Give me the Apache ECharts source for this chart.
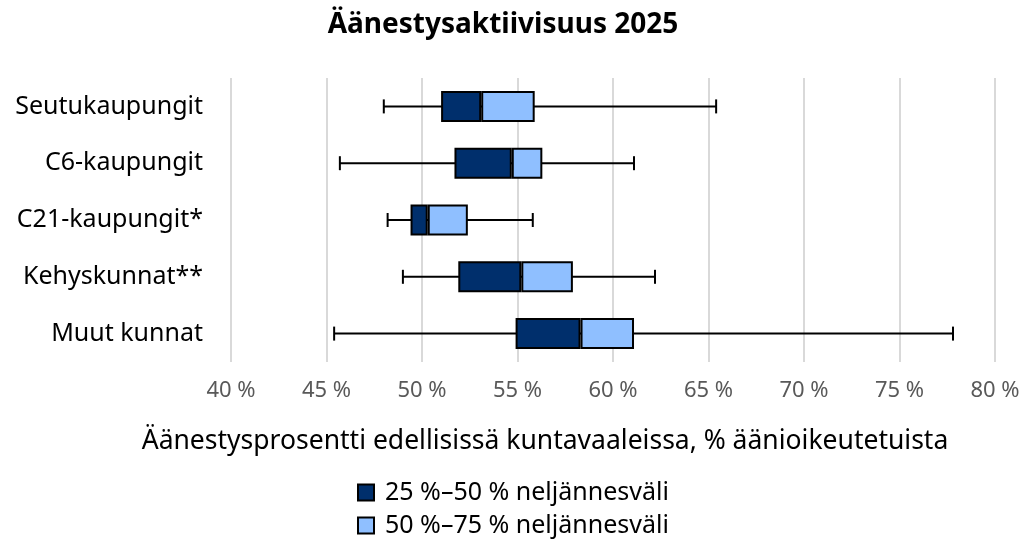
<!DOCTYPE html>
<html>
<head>
<meta charset="utf-8">
<script src="https://cdn.jsdelivr.net/npm/echarts@6/dist/echarts.min.js"></script>
<style>
  html, body { margin: 0; padding: 0; background: #fff; }
  #main { width: 1032px; height: 544px; }
</style>
</head>
<body>
<div id="main"></div>
<script>
// kuntaryhmät ja tunnusluvut (%)
var categories = ['Seutukaupungit', 'C6-kaupungit', 'C21-kaupungit*', 'Kehyskunnat**', 'Muut kunnat'];
var minVals = [48.0, 45.7, 48.2, 49.0, 45.4];
var q1Vals = [51.0, 51.7, 49.4, 51.9, 54.9];
var medianVals = [53.1, 54.7, 50.3, 55.2, 58.3];
var q3Vals = [55.9, 56.3, 52.4, 57.9, 61.1];
var maxVals = [65.4, 61.1, 55.8, 62.2, 77.8];
var xTicks = [40, 45, 50, 55, 60, 65, 70, 75, 80];
var legendNames = ['25 %–50 % neljännesväli', '50 %–75 % neljännesväli'];

var fontName = 'Noto Sans';

var chartDom = document.getElementById('main');
var myChart = echarts.init(chartDom);

var lowerPart = [];
var upperPart = [];
var whiskers = [];
for (var i = 0; i < categories.length; i++) {
  lowerPart.push(+(medianVals[i] - q1Vals[i]).toFixed(2));
  upperPart.push(+(q3Vals[i] - medianVals[i]).toFixed(2));
  whiskers.push([i, minVals[i], maxVals[i]]);
}

// kaksi erillistä selitettä allekkain
var legendStyle = function (name, top) {
  return {
    orient: 'horizontal',
    left: 357,
    top: top,
    padding: 0,
    itemWidth: 16,
    itemHeight: 16,
    icon: 'rect',
    data: [name],
    textStyle: { fontSize: 25, color: '#000', fontFamily: fontName, padding: [0, 0, 0, 6] }
  };
};

var option = {
  animation: false,
  textStyle: { fontFamily: fontName },
  title: [
    {
      text: 'Äänestysaktiivisuus 2025',
      left: 498,
      top: 6,
      textAlign: 'center',
      textStyle: { fontSize: 28, fontWeight: 'bold', color: '#000', fontFamily: fontName }
    },
    {
      text: 'Äänestysprosentti edellisissä kuntavaaleissa, % äänioikeutetuista',
      left: 540,
      top: 423,
      textAlign: 'center',
      textStyle: { fontSize: 26.5, fontWeight: 'normal', color: '#000', fontFamily: fontName }
    }
  ],
  legend: [
    legendStyle(legendNames[0], 480),
    legendStyle(legendNames[1], 513)
  ],
  grid: {
    left: 231,
    right: 37,
    top: 78,
    bottom: 182,
    containLabel: false
  },
  xAxis: {
    type: 'value',
    min: 40,
    max: 80,
    interval: 5,
    axisLine: { show: false },
    axisTick: { show: false },
    axisLabel: {
      margin: 18,
      fontSize: 22,
      color: '#595959',
      formatter: function (v) { return xTicks.indexOf(v) >= 0 ? v + ' %' : ''; }
    },
    splitLine: { lineStyle: { color: '#d9d9d9', width: 2 } }
  },
  yAxis: {
    type: 'category',
    inverse: true,
    data: categories,
    axisLine: { show: false },
    axisTick: { show: false },
    axisLabel: { margin: 28, fontSize: 25, color: '#000' }
  },
  series: [
    {
      type: 'custom',
      z: 1,
      silent: true,
      renderItem: function (params, api) {
        var cat = api.value(0);
        var p1 = api.coord([api.value(1), cat]);
        var p2 = api.coord([api.value(2), cat]);
        var h = 7;
        var st = { stroke: '#000', lineWidth: 2 };
        return {
          type: 'group',
          children: [
            { type: 'line', shape: { x1: p1[0], y1: p1[1], x2: p2[0], y2: p2[1] }, style: st },
            { type: 'line', shape: { x1: p1[0], y1: p1[1] - h, x2: p1[0], y2: p1[1] + h }, style: st },
            { type: 'line', shape: { x1: p2[0], y1: p2[1] - h, x2: p2[0], y2: p2[1] + h }, style: st }
          ]
        };
      },
      encode: { x: [1, 2], y: 0 },
      data: whiskers
    },
    {
      name: 'base',
      type: 'bar',
      stack: 'box',
      z: 2,
      barWidth: 31,
      itemStyle: { color: 'transparent' },
      silent: true,
      data: q1Vals
    },
    {
      name: legendNames[0],
      type: 'bar',
      stack: 'box',
      z: 3,
      barWidth: 31,
      itemStyle: { color: '#002f6c', borderColor: '#000', borderWidth: 2 },
      data: lowerPart
    },
    {
      name: legendNames[1],
      type: 'bar',
      stack: 'box',
      z: 3,
      barWidth: 31,
      itemStyle: { color: '#8fbfff', borderColor: '#000', borderWidth: 2 },
      data: upperPart
    }
  ]
};

myChart.setOption(option);
window.onresize = function () {
  myChart.resize();
};
</script>
</body>
</html>
